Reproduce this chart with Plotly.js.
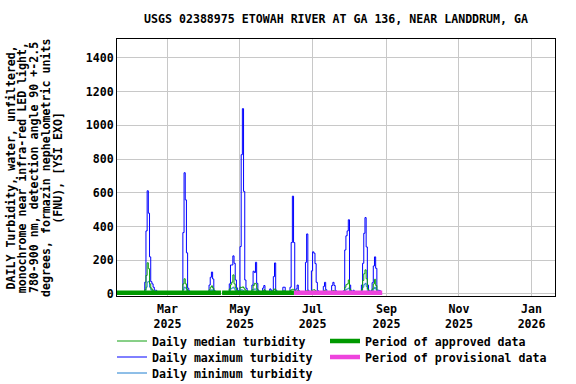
<!DOCTYPE html>
<html>
<head>
<meta charset="utf-8">
<script src="https://cdn.plot.ly/plotly-3.0.1.min.js"></script>
<style>html,body{margin:0;padding:0;background:#fff;}#chart{width:576px;height:384px;}</style>
</head>
<body>
<div id="chart"></div>
<script>
// ---- data ----
const startDate = '2025-01-17';
// Daily maximum turbidity (FNU), by month
const maxJan = [10,9,9,8,8,9,11,10,9,9,8,8,9,10,9];
const maxFeb = [9,9,8,8,9,10,9,9,10,70,374,612,479,220,73,60,40,22,22,15,12,11,10,10,9,9,10,9];
const maxMar = [9,9,8,8,8,9,9,8,8,9,10,9,12,364,719,558,244,34,18,14,12,11,10,10,9,9,9,8,8,9,9];
const maxApr = [9,9,10,12,53,99,130,89,22,14,12,11,10,10,null,9,9,10,9,10,12,60,172,172,226,182,83,36,20,16];
const maxMay = [281,826,1099,608,83,34,18,14,12,12,53,135,127,188,63,22,15,12,12,35,50,18,13,11,12,30,22,12,103,184,22];
const maxJun = [14,12,11,10,12,40,40,15,12,11,14,40,305,580,305,20,30,53,20,13,11,10,11,14,188,356,22,14,12,137];
const maxJul = [250,242,180,69,20,14,12,11,12,45,69,25,14,12,11,13,50,69,50,20,14,12,11,10,11,12,20,261,345,374,440];
const maxAug = [53,20,14,22,12,11,10,11,12,14,53,182,360,453,279,53,22,14,20,67,166,220,152,22,22,20,18];
// Daily median turbidity
const medJan = [6,5,5,5,5,6,7,6,6,5,5,5,6,6,6];
const medFeb = [6,5,5,5,6,6,6,6,7,25,110,185,150,60,35,25,18,13,11,9,8,7,7,7,6,6,6,6];
const medMar = [6,6,5,5,5,5,6,5,5,6,6,6,8,60,90,60,30,18,12,10,8,7,7,7,6,6,6,5,5,6,6];
const medApr = [6,6,6,8,25,40,48,35,14,10,8,7,7,7,null,6,6,6,6,7,8,30,55,70,113,60,35,20,12,10];
const medMay = [40,38,42,35,25,18,12,9,8,8,25,50,63,60,30,14,10,8,8,18,25,12,9,8,8,15,12,8,25,30,12];
const medJun = [9,8,7,7,8,18,18,10,8,7,9,20,25,28,25,12,15,22,12,8,7,7,7,9,18,20,12,9,8,20];
const medJul = [24,25,20,15,11,9,8,7,8,18,22,12,9,8,7,8,18,20,18,11,9,8,7,7,7,8,12,40,55,60,83];
const medAug = [30,12,9,12,8,7,7,7,8,9,25,80,120,143,90,30,13,9,12,30,60,87,50,13,12,11,10];
// Daily minimum turbidity
const minJan = [4,4,4,3,3,4,4,4,4,3,3,3,4,4,4];
const minFeb = [4,4,3,3,4,4,4,4,4,12,40,70,75,40,25,18,13,9,8,7,6,5,5,5,4,4,4,4];
const minMar = [4,4,4,3,3,4,4,4,4,4,4,4,5,25,40,35,20,12,8,7,6,5,5,5,4,4,4,4,4,4,4];
const minApr = [4,4,4,5,12,20,25,18,9,7,6,5,5,5,null,4,4,4,4,5,5,15,30,35,40,30,18,12,8,7];
const minMay = [20,25,22,18,14,10,8,6,5,5,12,25,30,28,15,9,7,6,6,10,14,8,6,5,5,9,8,6,12,15,8];
const minJun = [6,5,5,5,5,10,10,6,5,5,6,10,12,14,12,7,9,12,8,5,5,5,5,6,10,11,8,6,5,10];
const minJul = [12,13,11,9,7,6,5,5,5,10,12,7,6,5,5,5,10,12,10,7,6,5,5,5,5,5,7,20,28,30,35];
const minAug = [15,8,6,8,5,5,5,5,5,6,14,40,55,63,45,18,9,6,8,15,30,40,28,9,8,7,7];
// Data-status periods
const approvedStart = ['2025-01-17', '2025-04-16'];
const approvedEnd   = ['2025-04-15', '2025-06-15 08:00'];
const provisionalStart = ['2025-06-15 08:00'];
const provisionalEnd   = ['2025-08-28 12:00'];
const periodLevel = 7;
// Axis ticks
const xTickVals = ['2025-03-01','2025-05-01','2025-07-01','2025-09-01','2025-11-01','2026-01-01'];
const xTickText = ['Mar<br>2025','May<br>2025','Jul<br>2025','Sep<br>2025','Nov<br>2025','Jan<br>2026'];
const yTickVals = [0,200,400,600,800,1000,1200,1400];
const yTickText = ['0','200','400','600','800','1000','1200','1400'];
// Y-axis title lines
const yTitleLines = [
  'DAILY Turbidity, water, unfiltered,',
  'monochrome near infra-red LED light,',
  '780-900 nm, detection angle 90 +-2.5',
  'degrees, formazin nephelometric units',
  '(FNU), [YSI EXO]'
];

// ---- build ----
const maxVals = [].concat(maxJan,maxFeb,maxMar,maxApr,maxMay,maxJun,maxJul,maxAug);
const medVals = [].concat(medJan,medFeb,medMar,medApr,medMay,medJun,medJul,medAug);
const minVals = [].concat(minJan,minFeb,minMar,minApr,minMay,minJun,minJul,minAug);
const dates = [];
{
  const d0 = new Date(startDate + 'T00:00:00Z');
  for (let i = 0; i < maxVals.length; i++) {
    const d = new Date(d0.getTime() + i * 86400000);
    dates.push(d.toISOString().slice(0,10));
  }
}
function periodXY(starts, ends) {
  const x = [], y = [];
  for (let i = 0; i < starts.length; i++) {
    if (i > 0) { x.push(null); y.push(null); }
    x.push(starts[i], ends[i]); y.push(periodLevel, periodLevel);
  }
  return {x, y};
}
const appr = periodXY(approvedStart, approvedEnd);
const prov = periodXY(provisionalStart, provisionalEnd);

const FONT = 'DejaVu Sans Mono, monospace';
const font = {family: FONT, size: 11.6, color: '#000', weight: 'bold'};

const traces = [
  {x: dates, y: maxVals, name: 'Daily maximum turbidity', mode: 'lines', line: {shape: 'hv', color: '#0000ff', width: 1}, legend: 'legend2', hoverinfo: 'skip'},
  {x: dates, y: minVals, name: 'Daily minimum turbidity', mode: 'lines', line: {shape: 'hv', color: '#1f7fd0', width: 1}, legend: 'legend3', hoverinfo: 'skip'},
  {x: dates, y: medVals, name: 'Daily median turbidity', mode: 'lines', line: {shape: 'hv', color: '#10a010', width: 1}, legend: 'legend', hoverinfo: 'skip'},
  {x: appr.x, y: appr.y, name: 'Period of approved data', mode: 'lines', line: {color: '#009900', width: 4.5}, legend: 'legend4', hoverinfo: 'skip'},
  {x: prov.x, y: prov.y, name: 'Period of provisional data', mode: 'lines', line: {color: '#ee44dd', width: 4.5}, legend: 'legend5', hoverinfo: 'skip'}
];

const PH = 257, PW = 438;
function leg(xpx, ypx) {
  return {x: (xpx - 117) / PW, xanchor: 'left', y: (296 - ypx) / PH, yanchor: 'middle', orientation: 'v',
          font: font, bgcolor: 'rgba(0,0,0,0)', borderwidth: 0, tracegroupgap: 0};
}
const yTitleX = [10, 21.8, 33.6, 45.4, 57.2];
const annotations = yTitleLines.map((t, i) => ({
  text: t, textangle: -90, xref: 'paper', yref: 'paper', x: (yTitleX[i] - 117) / PW, y: 0.5,
  xanchor: 'center', yanchor: 'middle', showarrow: false, font: font
}));

const layout = {
  width: 576, height: 384,
  margin: {l: 117, r: 21, t: 39, b: 88, pad: 0, autoexpand: false},
  paper_bgcolor: '#fff', plot_bgcolor: '#fff',
  font: font,
  title: {text: 'USGS 02388975 ETOWAH RIVER AT GA 136, NEAR LANDDRUM, GA', font: font,
          x: 0.5, xref: 'paper', xanchor: 'center', y: 1 - 19/384, yref: 'container', yanchor: 'middle'},
  xaxis: {type: 'date', range: ['2025-01-17 16:00', '2026-01-20 16:00'],
          tickmode: 'array', tickvals: xTickVals, ticktext: xTickText, ticklabelstandoff: 2,
          showgrid: true, gridcolor: '#c8c8c8', gridwidth: 1,
          showline: true, mirror: true, linecolor: '#000', linewidth: 1,
          ticks: '', zeroline: false, tickfont: font, fixedrange: true, automargin: false},
  yaxis: {range: [-12, 1512], tickmode: 'array', tickvals: yTickVals, ticktext: yTickText,
          showgrid: true, gridcolor: '#c8c8c8', gridwidth: 1,
          showline: true, mirror: true, linecolor: '#000', linewidth: 1,
          ticks: '', zeroline: false, tickfont: font, fixedrange: true, automargin: false},
  annotations: annotations,
  showlegend: true,
  legend: leg(112, 341),
  legend2: leg(112, 357),
  legend3: leg(112, 373),
  legend4: leg(325, 341),
  legend5: leg(325, 357)
};

Plotly.newPlot('chart', traces, layout, {displayModeBar: false, staticPlot: true});
</script>
</body>
</html>
